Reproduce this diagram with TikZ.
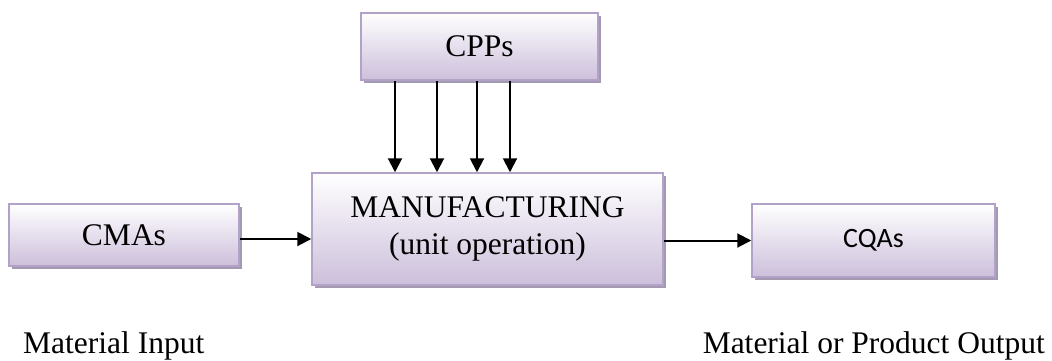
\documentclass[tikz,border=0pt]{standalone}
\usepackage{fontspec}
\setmainfont{Liberation Serif}
\newfontfamily\calibrifont{Carlito}
\usetikzlibrary{arrows.meta,shadows}

\definecolor{lavfill}{RGB}{204,191,219}
\definecolor{lavline}{RGB}{178,162,199}
\definecolor{lavshade}{RGB}{163,153,177}

\tikzset{
  blockbox/.style={draw=lavline, line width=1.5pt, top color=white, bottom color=lavfill,
    drop shadow={shadow xshift=3pt, shadow yshift=-3pt, fill=lavshade, opacity=1},
    align=center, inner sep=0pt, font=\fontsize{31.5}{37}\selectfont},
  flow/.style={-{Triangle[length=14pt,width=14pt]}, line width=2pt},
  caption/.style={inner sep=0pt, font=\fontsize{31.5}{37}\selectfont}
}

\begin{document}
\begin{tikzpicture}[x=1pt,y=-1pt]
  \useasboundingbox (0,0) rectangle (1052,360);

  % boxes
  \node[blockbox, minimum width=237pt, minimum height=67pt] (cpps) at (479.5,46.5) {CPPs};
  \node[blockbox, minimum width=351pt, minimum height=112pt] (man) at (487.5,229) {MANUFACTURING\\(unit operation)};
  \node[blockbox, minimum width=230pt, minimum height=62pt] (cmas) at (124,235) {CMAs};
  \node[blockbox, minimum width=243pt, minimum height=73pt,
        font=\calibrifont\fontsize{28}{33}\selectfont] (cqas) at (873.5,240.5) {CQAs};

  % arrows
  \foreach \x in {395,437,477,510}
    \draw[flow] (cpps.south -| \x,0) -- (man.north -| \x,0);
  \draw[flow] ([yshift=-4pt]cmas.east) -- ([yshift=-4pt]cmas.east -| man.west);
  \draw[flow] (man.east |- cqas.west) -- (cqas.west);

  % captions
  \node[caption, anchor=base west] (input) at (23,353) {Material Input};
  \node[caption, anchor=base east] (output) at (1045,353) {Material or Product Output};
\end{tikzpicture}
\end{document}
